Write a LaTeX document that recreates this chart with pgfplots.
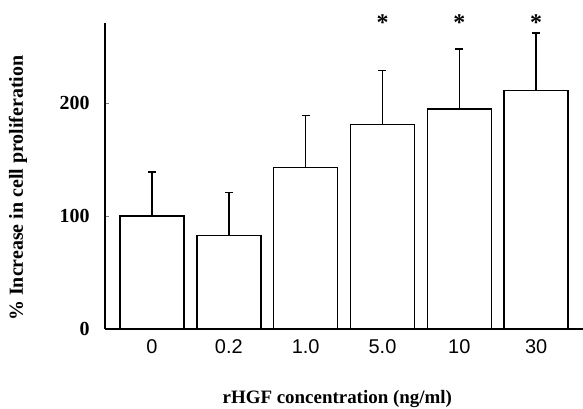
\documentclass[border=0pt]{standalone}
\usepackage{fontspec}
\setmainfont{Liberation Serif}
\newfontfamily\arialfont{Liberation Sans}
\usepackage{pgfplots}
\pgfplotsset{compat=1.18}
\begin{document}
\begin{tikzpicture}
\path[use as bounding box] (0,0) rectangle (583bp,409bp);
\begin{axis}[
    at={(105bp,80bp)}, anchor=south west,
    scale only axis, width=478bp, height=306bp,
    xmin=-0.612, xmax=5.61, ymin=0, ymax=271,
    axis x line=bottom, axis y line=left,
    axis line style={line width=1.5pt, -},
    clip=false,
    xtick={0,1,2,3,4,5},
    xticklabels={0,0.2,1.0,5.0,10,30},
    ytick={0,100,200},
    yticklabels={0,100,200},
    x tick style={draw=none},
    y tick style={line width=1pt},
    tick align=inside, major tick length=4bp,
    yticklabel style={font=\fontsize{20}{20}\selectfont\bfseries, xshift=-12bp},
    xticklabel style={font=\arialfont\fontsize{20}{20}\selectfont, yshift=-7bp},
    ylabel={\% Increase in cell proliferation},
    xlabel={rHGF concentration (ng/ml)},
    label style={font=\fontsize{19}{19}\selectfont\bfseries},
    ylabel style={font=\fontsize{20}{20}\selectfont\bfseries,
        at={(axis description cs:-0.182,0.46)}, anchor=center},
    xlabel style={at={(axis description cs:0.486,-0.229)}, anchor=center},
]
\addplot[ybar, bar width=64bp, draw=black, line width=1.4pt, fill=white,
    error bars/.cd, y dir=plus, y explicit,
    error bar style={line width=1.4pt},
    error mark options={rotate=90, mark size=4bp, line width=1.4pt}]
coordinates {
(0,100) +- (0,39)
(1,83) +- (0,38)
(2,143) +- (0,46)
(3,181) +- (0,48)
(4,195) +- (0,53)
(5,211) +- (0,51)
};
\node[font=\fontsize{24}{24}\selectfont\bfseries] at (axis cs:3,271) {*};
\node[font=\fontsize{24}{24}\selectfont\bfseries] at (axis cs:4,271) {*};
\node[font=\fontsize{24}{24}\selectfont\bfseries] at (axis cs:5,271) {*};
\end{axis}
\end{tikzpicture}
\end{document}
